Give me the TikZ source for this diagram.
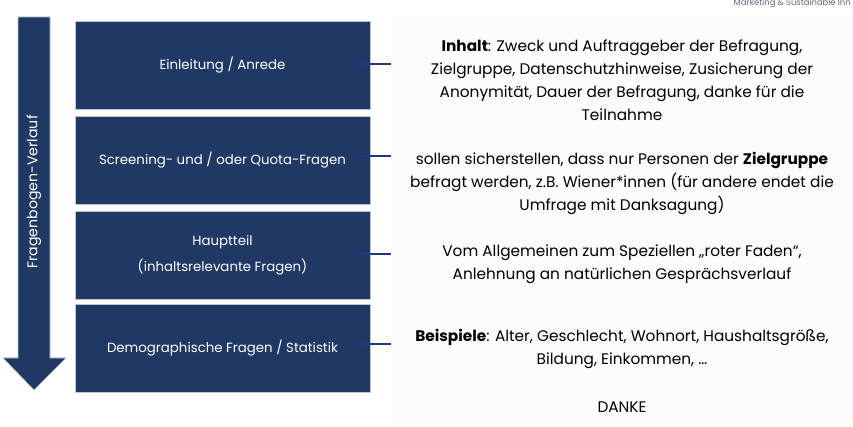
\documentclass[tikz,border=0pt]{standalone}
\usepackage{fontspec}
\setmainfont{Poppins}
\usetikzlibrary{positioning,calc}
\definecolor{boxcolor}{RGB}{31,56,100}
\definecolor{linecolor}{RGB}{32,56,130}
\definecolor{rimcolor}{RGB}{190,198,214}
\definecolor{notecolor}{RGB}{95,105,125}
\definecolor{panelcolor}{RGB}{252,252,252}
\tikzset{
  stepbox/.style  = {rectangle, fill=boxcolor, draw=rimcolor, line width=0.5pt,
                     minimum width=221.25pt, minimum height=66pt, inner sep=0pt,
                     text=white, align=center, font=\fontsize{10}{19.5}\selectfont},
  flowarrow/.style = {fill=boxcolor, draw=rimcolor, line width=0.5pt},
  flowlabel/.style = {rotate=90, text=white, font=\fontsize{10.6}{12}\selectfont},
  conn/.style     = {draw=linecolor, line width=1.5pt},
  infotext/.style = {align=center, font=\fontsize{11.5}{17.25}\selectfont},
  notetext/.style = {text=notecolor, font=\fontsize{6.3}{7}\selectfont, inner sep=0pt}
}

\begin{document}
\begin{tikzpicture}[x=0.75pt,y=-0.75pt]
\useasboundingbox (0,0) rectangle (853,427);

% --- light panel behind the notes ---
\fill[panelcolor] (392,16) rectangle (853,427);
\node[notetext, anchor=east] (brand) at (851,3.5) {Marketing \& Sustainable Inn};

% --- big arrow (question flow) ---
\draw[flowarrow] (18,17) -- (50,17) -- (50,358) -- (66,358) -- (34,390)
  -- (3,358) -- (18,358) -- cycle;
\node[flowlabel] (flow) at (34,192) {Fragenbogen-Verlauf};

% --- question blocks ---
\foreach \y/\txt [count=\i] in {65/{Einleitung / Anrede},
    160/{Screening- und / oder Quota-Fragen},
    255/{Hauptteil\\(inhaltsrelevante Fragen)},
    348/{Demographische Fragen / Statistik}}{
  \node[stepbox] (b\i) at (222.5,\y) {\txt};
}

% --- connectors: block -> note ---
\foreach \y [count=\i] in {64,156,254,344}{
  \coordinate (e\i) at (391,\y);
  \draw[conn] ($(b\i.east |- e\i)+(-15,0)$) -- (e\i);
}

% --- notes ---
\node[infotext] (t1) at (622,80) {\textbf{Inhalt}: Zweck und Auftraggeber der Befragung,\\
  Zielgruppe, Datenschutzhinweise, Zusicherung der\\
  Anonymität, Dauer der Befragung, danke für die\\ Teilnahme};
\node[infotext] (t2) at (622,183.5) {sollen sicherstellen, dass nur Personen der \textbf{Zielgruppe}\\
  befragt werden, z.B. Wiener*innen (für andere endet die\\
  Umfrage mit Danksagung)};
\node[infotext] (t3) at (622,264.5) {Vom Allgemeinen zum Speziellen „roter Faden“,\\
  Anlehnung an natürlichen Gesprächsverlauf};
\node[infotext] (t4) at (622,349) {\textbf{Beispiele}: Alter, Geschlecht, Wohnort, Haushaltsgröße,\\
  Bildung, Einkommen, …};
\node[infotext] (t5) at (622,407) {DANKE};

\end{tikzpicture}
\end{document}
